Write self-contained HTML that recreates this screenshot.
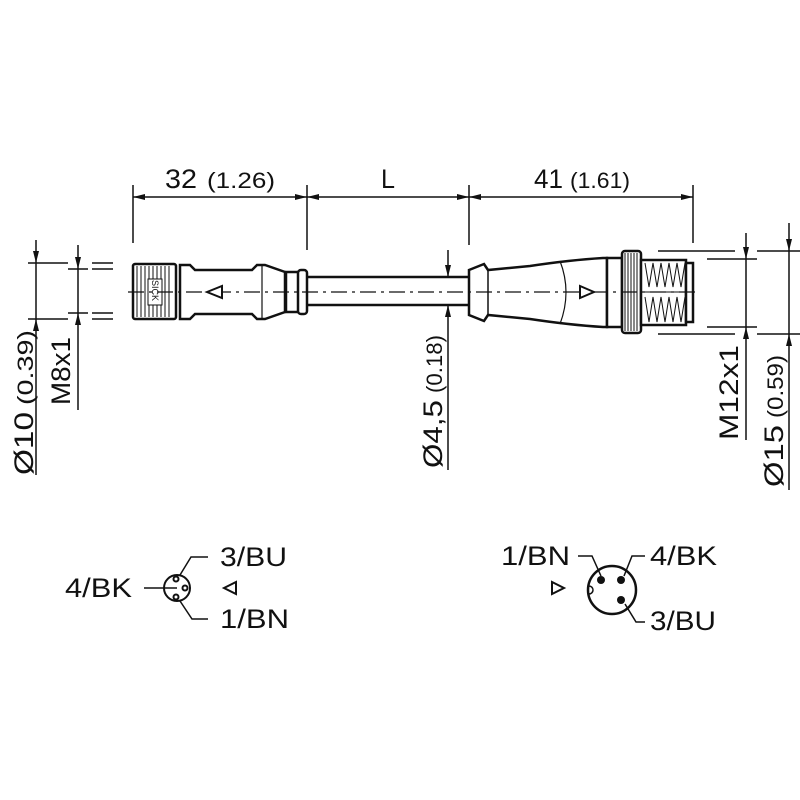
<!DOCTYPE html>
<html><head><meta charset="utf-8"><style>
html,body{margin:0;padding:0;background:#fff}
svg{display:block}
text{font-family:"Liberation Sans",sans-serif;fill:#111}
</style></head><body>
<svg width="800" height="800" viewBox="0 0 800 800" xmlns="http://www.w3.org/2000/svg">
<defs>
<marker id="a" viewBox="0 0 12 6" refX="12" refY="3" markerWidth="12" markerHeight="6" orient="auto" markerUnits="userSpaceOnUse"><path d="M0,0 L12,3 L0,6 z" fill="#111"/></marker>
</defs>
<g stroke="#111" stroke-width="1.5" fill="none">
<line x1="133" y1="185" x2="133" y2="243"/>
<line x1="307" y1="185" x2="307" y2="250"/>
<line x1="469" y1="185" x2="469" y2="245"/>
<line x1="693" y1="185" x2="693" y2="243"/>
<line x1="220" y1="197" x2="133" y2="197" marker-end="url(#a)"/>
<line x1="220" y1="197" x2="307" y2="197" marker-end="url(#a)"/>
<line x1="388" y1="197" x2="307" y2="197" marker-end="url(#a)"/>
<line x1="388" y1="197" x2="469" y2="197" marker-end="url(#a)"/>
<line x1="580" y1="197" x2="469" y2="197" marker-end="url(#a)"/>
<line x1="580" y1="197" x2="693" y2="197" marker-end="url(#a)"/>
<line x1="28" y1="263" x2="68" y2="263"/>
<line x1="28" y1="319" x2="68" y2="319"/>
<line x1="68" y1="269" x2="88" y2="269"/>
<line x1="68" y1="313" x2="88" y2="313"/>
<line x1="92" y1="263" x2="113" y2="263"/>
<line x1="92" y1="269" x2="113" y2="269"/>
<line x1="92" y1="313" x2="113" y2="313"/>
<line x1="92" y1="319" x2="113" y2="319"/>
<line x1="36" y1="240" x2="36" y2="263" marker-end="url(#a)"/>
<line x1="36" y1="475" x2="36" y2="319" marker-end="url(#a)"/>
<line x1="36" y1="263" x2="36" y2="319"/>
<line x1="78" y1="245" x2="78" y2="269" marker-end="url(#a)"/>
<line x1="78" y1="410" x2="78" y2="313" marker-end="url(#a)"/>
<line x1="78" y1="269" x2="78" y2="313"/>
<line x1="448" y1="250" x2="448" y2="277" marker-end="url(#a)"/>
<line x1="448" y1="470" x2="448" y2="305" marker-end="url(#a)"/>
<line x1="448" y1="277" x2="448" y2="305"/>
<line x1="658" y1="251" x2="735" y2="251"/>
<line x1="658" y1="334" x2="735" y2="334"/>
<line x1="707" y1="259" x2="757" y2="259"/>
<line x1="707" y1="327" x2="757" y2="327"/>
<line x1="757" y1="251" x2="800" y2="251"/>
<line x1="757" y1="334" x2="800" y2="334"/>
<line x1="746" y1="233" x2="746" y2="259" marker-end="url(#a)"/>
<line x1="746" y1="440" x2="746" y2="327" marker-end="url(#a)"/>
<line x1="746" y1="259" x2="746" y2="327"/>
<line x1="789" y1="223" x2="789" y2="251" marker-end="url(#a)"/>
<line x1="789" y1="490" x2="789" y2="334" marker-end="url(#a)"/>
<line x1="789" y1="251" x2="789" y2="334"/>
</g>
<g stroke="#111" stroke-width="2.5" fill="#fff">
<rect x="300" y="277" width="172" height="28"/>
<rect x="286" y="272" width="16" height="40"/>
<rect x="298" y="270" width="9" height="44" rx="3"/>
<path d="M180,265 L190,265 L195,270 L252,270 L257,265 L265,265 L285,272 L285,312 L265,319 L257,319 L252,314 L195,314 L190,319 L180,319 Z"/>
<line x1="262" y1="266" x2="262" y2="318" stroke-width="1.2"/>
<rect x="133" y="264" width="43" height="55" rx="2"/>
<path d="M469,270 L484,264 L488,270 L530,266 Q570,260 603,258 L607,258 L607,327 L603,327 Q570,325 530,319 L488,315 L484,321 L469,315 Z"/>
<line x1="488" y1="270" x2="488" y2="315" stroke-width="1.5"/>
<path d="M560,261 Q572,292 560,324" fill="none" stroke-width="1.2"/>
<rect x="607" y="258" width="15" height="69"/>
<rect x="622" y="251" width="19" height="82" rx="3"/>
<rect x="641" y="260" width="45" height="65"/>
<rect x="686" y="263" width="7" height="59"/>
</g>
<g stroke="#111" stroke-width="1" fill="none">
<path d="M137,266 V317 M141,266 V317 M145,266 V317 M149,266 V317 M153,266 V317 M157,266 V317 M161,266 V317 M165,266 V317 M169,266 V317"/>
<path d="M625,253 V331 M628,253 V331 M631,253 V331 M634,253 V331 M637,253 V331"/>
<path d="M645,263 L649,287 L653,263 L657,287 L661,263 L665,287 L669,263 L673,287 L677,263 L681,287 L685,263"/>
<path d="M645,297 L649,322 L653,297 L657,322 L661,297 L665,322 L669,297 L673,322 L677,297 L681,322 L685,297"/>
<line x1="641" y1="292" x2="686" y2="292"/>
</g>
<rect x="148" y="279" width="14" height="26" fill="#fff" stroke="#111" stroke-width="1"/>
<text x="0" y="0" font-size="9" transform="translate(152,280) rotate(90)">SICK</text>
<line x1="128" y1="292" x2="700" y2="292" stroke="#111" stroke-width="1.3" stroke-dasharray="16,5,3,5"/>
<path d="M207,292 L222,286 L222,298 Z" fill="#fff" stroke="#111" stroke-width="2"/>
<path d="M594,292 L580,286 L580,298 Z" fill="#fff" stroke="#111" stroke-width="2"/>
<!-- labels -->
<g font-size="27" lengthAdjust="spacingAndGlyphs">
<text x="165" y="188" textLength="32" lengthAdjust="spacingAndGlyphs">32</text>
<text x="207" y="188" font-size="22" textLength="68" lengthAdjust="spacingAndGlyphs">(1.26)</text>
<text x="381" y="188" textLength="14" lengthAdjust="spacingAndGlyphs">L</text>
<text x="534" y="188" textLength="29" lengthAdjust="spacingAndGlyphs">41</text>
<text x="570" y="188" font-size="22" textLength="60" lengthAdjust="spacingAndGlyphs">(1.61)</text>
<g transform="translate(33,475) rotate(-90)"><text x="0" y="0" textLength="63" lengthAdjust="spacingAndGlyphs">Ø10</text><text x="70" y="0" font-size="22" textLength="75" lengthAdjust="spacingAndGlyphs">(0.39)</text></g>
<g transform="translate(70,405) rotate(-90)"><text x="0" y="0" textLength="68" lengthAdjust="spacingAndGlyphs">M8x1</text></g>
<g transform="translate(442,468) rotate(-90)"><text x="0" y="0" textLength="68" lengthAdjust="spacingAndGlyphs">Ø4,5</text><text x="75" y="0" font-size="22" textLength="58" lengthAdjust="spacingAndGlyphs">(0.18)</text></g>
<g transform="translate(738,440) rotate(-90)"><text x="0" y="0" textLength="95" lengthAdjust="spacingAndGlyphs">M12x1</text></g>
<g transform="translate(783,487) rotate(-90)"><text x="0" y="0" textLength="62" lengthAdjust="spacingAndGlyphs">Ø15</text><text x="69" y="0" font-size="22" textLength="63" lengthAdjust="spacingAndGlyphs">(0.59)</text></g>
<text x="65" y="597" textLength="67" lengthAdjust="spacingAndGlyphs">4/BK</text>
<text x="220" y="566" textLength="67" lengthAdjust="spacingAndGlyphs">3/BU</text>
<text x="220" y="628" textLength="69" lengthAdjust="spacingAndGlyphs">1/BN</text>
<text x="501" y="565" textLength="69" lengthAdjust="spacingAndGlyphs">1/BN</text>
<text x="650" y="565" textLength="67" lengthAdjust="spacingAndGlyphs">4/BK</text>
<text x="650" y="630" textLength="66" lengthAdjust="spacingAndGlyphs">3/BU</text>
</g>
<g stroke="#111" stroke-width="2" fill="none">
<circle cx="177" cy="588" r="13"/>
<circle cx="176" cy="579" r="2.5"/>
<circle cx="185" cy="588" r="2.5"/>
<circle cx="176" cy="597" r="2.5"/>
<line x1="144" y1="588" x2="177" y2="588" stroke-width="1.5"/>
<polyline points="180,575 191,557 208,557" stroke-width="1.5"/>
<polyline points="180,601 192,619 208,619" stroke-width="1.5"/>
<path d="M224,588 L236,582 L236,594 Z"/>
</g>
<g stroke="#111" stroke-width="2.5" fill="none">
<circle cx="612" cy="590" r="24"/>
<path d="M589,586 A4,4 0 0 1 589,594" stroke-width="1.5"/>
<polyline points="578,556 592,556 601,576" stroke-width="1.5"/>
<polyline points="624,576 632,556 645,556" stroke-width="1.5"/>
<polyline points="625,604 636,622 645,622" stroke-width="1.5"/>
<path d="M564,588 L552,582 L552,594 Z" stroke-width="2"/>
</g>
<circle cx="601" cy="580" r="4" fill="#111"/>
<circle cx="621" cy="580" r="4" fill="#111"/>
<circle cx="621" cy="600" r="4" fill="#111"/>
</svg>
</body></html>
